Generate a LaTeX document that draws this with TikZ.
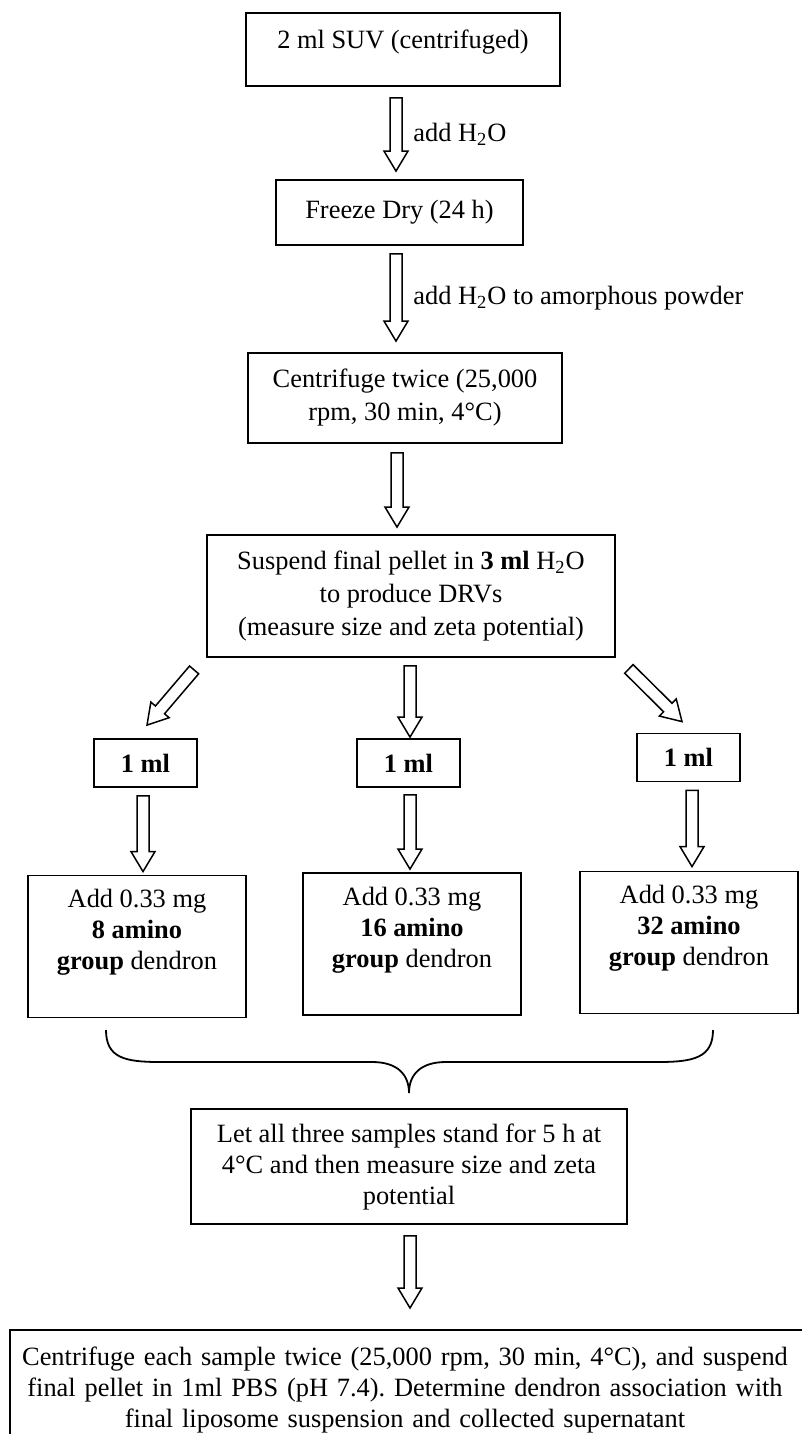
\documentclass[tikz,border=0pt]{standalone}
\usepackage{fontspec}
\setmainfont{Liberation Serif}
\usetikzlibrary{calc}

\newcommand{\bodyfont}{\fontsize{13.2pt}{15.5pt}\selectfont}
\newcommand{\padbelow}[1]{\rule[-#1]{0pt}{#1}}
% hollow block arrow from #1 to #2
\newcommand{\fatarrow}[2]{%
  \draw[fat] let \p1=(#1), \p2=(#2), \p3=($(\p2)!10pt!(\p1)$) in
    ($(\p1)!3pt!90:(\p2)$) -- ($(\p3)!3pt!-90:(\p1)$) -- ($(\p3)!6pt!-90:(\p1)$) -- (\p2)
    -- ($(\p3)!6pt!90:(\p1)$) -- ($(\p3)!3pt!90:(\p1)$) -- ($(\p1)!3pt!-90:(\p2)$) -- cycle;}

\tikzset{
  box/.style={draw, line width=0.9pt, align=center, inner sep=3pt, font=\bodyfont},
  wide/.style={font=\fontsize{13.2pt}{16.5pt}\selectfont},
  mlbox/.style={box, minimum width=51.5pt, minimum height=24pt, font=\bodyfont\bfseries},
  addbox/.style={box, minimum width=109pt, minimum height=71pt},
  note/.style={font=\bodyfont, anchor=west, inner sep=0pt},
  fat/.style={draw, line width=0.75pt, fill=white, line join=miter}
}

\begin{document}
\frenchspacing
\begin{tikzpicture}[x={(0.5pt,0pt)}, y={(0pt,-0.5pt)}]
  \useasboundingbox (0,0) rectangle (802,1434);
  \clip (0,0) rectangle (802,1434);
  % Nodes
  \node[box, minimum width=157pt, minimum height=36.5pt] (Suv) at (403,49.5) {2 ml SUV (centrifuged)\padbelow{10pt}};
  \node[box, minimum width=123.5pt, minimum height=32.5pt] (Freeze) at (399.5,212.5) {Freeze Dry (24 h)};
  \node[box, wide, minimum width=157pt, minimum height=45pt] (Spin) at (405,398) {Centrifuge twice (25,000\\rpm, 30 min, 4°C)};
  \node[box, wide, minimum width=204pt, minimum height=61pt] (Pellet) at (411,596) {Suspend final pellet in \textbf{3 ml} H\textsubscript{2}O\\to produce DRVs\\(measure size and zeta potential)};

  \node[mlbox] (Aliquot1) at (145.5,763) {1 ml};
  \node[mlbox] (Aliquot2) at (408.5,763) {1 ml};
  \node[mlbox] (Aliquot3) at (688.5,757.5) {1 ml};

  \node[addbox] (Dendron8) at (137,946.5) {Add 0.33 mg\\\textbf{8 amino}\\\textbf{group} dendron\padbelow{17pt}};
  \node[addbox] (Dendron16) at (412,944) {Add 0.33 mg\\\textbf{16 amino}\\\textbf{group} dendron\padbelow{17pt}};
  \node[addbox] (Dendron32) at (689,942.5) {Add 0.33 mg\\\textbf{32 amino}\\\textbf{group} dendron\padbelow{17pt}};

  \node[box, minimum width=218pt, minimum height=57.5pt] (Stand) at (409,1166.5) {Let all three samples stand for 5 h at\\4°C and then measure size and zeta\\potential};

  \node[font=\bodyfont, align=center, text width=384pt, inner xsep=5.5pt, inner ysep=8pt, anchor=north] (Final) at (405,1330) {Centrifuge each sample twice (25,000 rpm, 30 min, 4°C), and suspend\\final pellet in 1ml PBS (pH 7.4). Determine dendron association with\\final liposome suspension and collected supernatant};
  \draw[line width=0.9pt] ([yshift=-40pt]Final.south west) -- (Final.north west) -- ([xshift=20pt]Final.north east);

  % Labels
  \node[note] (AddWater) at (413,134) {add H\textsubscript{2}O};
  \node[note] (AddPowder) at (413,298) {add H\textsubscript{2}O to amorphous powder};

  % Edges
  \fatarrow{$(Suv.south)+(-7,11)$}{$(Freeze.north)+(-3.5,-8)$}
  \fatarrow{$(Freeze.south)+(-3.5,8)$}{$(Spin.north)+(-9,-11)$}
  \fatarrow{$(Spin.south)+(-8,9)$}{$(Pellet.north)+(-14,-7)$}

  \fatarrow{$(Pellet.south west)+(-12,12)$}{$(Aliquot1.north)+(1.5,-13)$}
  \fatarrow{$(Pellet.south)+(-1,8)$}{$(Aliquot2.north)+(1.5,-1)$}
  \fatarrow{$(Pellet.south east)+(13,11)$}{$(Aliquot3.north)+(-6.5,-11)$}

  \fatarrow{$(Aliquot1.south)+(-2.5,8)$}{$(Dendron8.north)+(6,-3)$}
  \fatarrow{$(Aliquot2.south)+(1.5,7)$}{$(Dendron16.north)+(-2,-3)$}
  \fatarrow{$(Aliquot3.south)+(3.5,8)$}{$(Dendron32.north)+(3,-4)$}

  \fatarrow{$(Stand.south)+(1,11)$}{$(Final.north)+(5,-22)$}

  % Brace
  \draw[line width=0.9pt] (106,1030) .. controls (106,1058) and (125,1062) .. (160,1062) -- (372,1062)
    .. controls (398,1062) and (409,1075) .. (409,1093)
    .. controls (409,1075) and (420,1062) .. (446,1062) -- (658,1062)
    .. controls (693,1062) and (713,1058) .. (713,1030);
\end{tikzpicture}
\end{document}
